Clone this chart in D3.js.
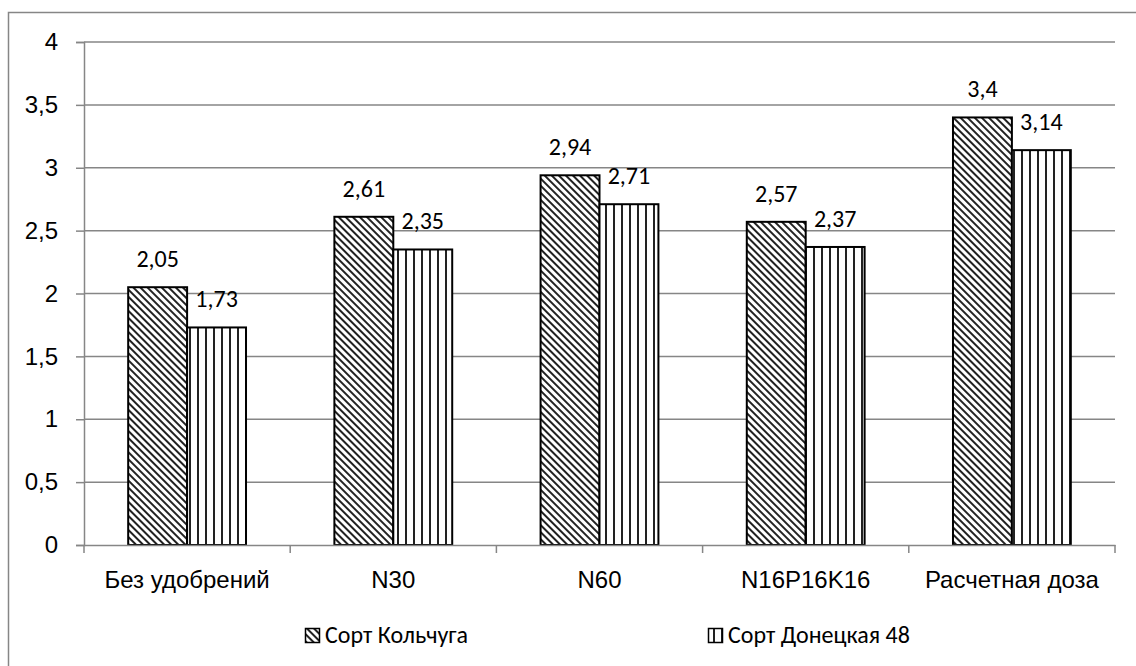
<!DOCTYPE html>
<html>
<head>
<meta charset="utf-8">
<script src="https://cdn.jsdelivr.net/npm/d3@7"></script>
<style>
  body { margin: 0; background: #fff; }
  svg { font-family: Carlito, "Open Sans", sans-serif; }
</style>
</head>
<body>
<svg id="chart" width="1136" height="666"></svg>
<script>
const categories = ["Без удобрений", "N30", "N60", "N16P16K16", "Расчетная доза"];
const seriesNames = ["Сорт Кольчуга", "Сорт Донецкая 48"];
const kolchuga = [2.05, 2.61, 2.94, 2.57, 3.4];
const donetskaya = [1.73, 2.35, 2.71, 2.37, 3.14];
const yTicks = [0, 0.5, 1, 1.5, 2, 2.5, 3, 3.5, 4];

const fmt = (v) => String(v).replace(".", ",");
const fontSize = 24;

const svg = d3.select("#chart");
const plotLeft = 84, plotRight = 1115, plotTop = 42, plotBottom = 545;

// outer frame of the chart area
svg.append("rect")
    .attr("x", 8.5).attr("y", 12.5)
    .attr("width", 1140).attr("height", 680)
    .attr("fill", "white")
    .attr("stroke", "#868686")
    .attr("stroke-width", 1.5);

// hatch patterns
const defs = svg.append("defs");
defs.append("pattern")
    .attr("id", "diag")
    .attr("patternUnits", "userSpaceOnUse")
    .attr("width", 5).attr("height", 5)
    .attr("patternTransform", "rotate(-45)")
    .call((p) => {
        p.append("rect").attr("width", 5).attr("height", 5).attr("fill", "white");
        p.append("rect").attr("width", 2).attr("height", 5).attr("fill", "#222");
    });
defs.append("pattern")
    .attr("id", "vert")
    .attr("patternUnits", "userSpaceOnUse")
    .attr("width", 8).attr("height", 8)
    .call((p) => {
        p.append("rect").attr("width", 8).attr("height", 8).attr("fill", "white");
        p.append("rect").attr("x", 5).attr("width", 2).attr("height", 8).attr("fill", "#222");
    });
const fills = ["url(#diag)", "url(#vert)"];

const x = d3.scaleBand().domain(categories).range([plotLeft, plotRight]);
const xs = d3.scaleBand().domain([0, 1]).range([0, x.bandwidth()]).paddingOuter(0.75);
const y = d3.scaleLinear().domain([0, 4]).range([plotBottom, plotTop]);

// gridlines
svg.append("g")
    .selectAll("line")
    .data(yTicks.slice(1))
    .enter()
    .append("line")
    .attr("x1", plotLeft).attr("x2", plotRight)
    .attr("y1", (d) => y(d)).attr("y2", (d) => y(d))
    .attr("stroke", "#868686")
    .attr("stroke-width", 1.5);

// y axis
const yAxis = svg.append("g")
    .attr("transform", `translate(${plotLeft},0)`)
    .call(d3.axisLeft(y).tickValues(yTicks).tickFormat(fmt).tickSize(8).tickPadding(18));
yAxis.select(".domain").attr("stroke", "#868686").attr("stroke-width", 1.5);
yAxis.selectAll(".tick line").attr("stroke", "#868686").attr("stroke-width", 1.5);
yAxis.selectAll("text").attr("font-size", fontSize).attr("fill", "#000");

// bars
const data = [kolchuga, donetskaya];
data.forEach((vals, s) => {
    svg.append("g")
        .selectAll("rect")
        .data(vals)
        .enter()
        .append("rect")
        .attr("x", (d, i) => x(categories[i]) + xs(s))
        .attr("y", (d) => y(d))
        .attr("width", xs.bandwidth())
        .attr("height", (d) => y(0) - y(d))
        .attr("fill", fills[s])
        .attr("stroke", "#000")
        .attr("stroke-width", 2);

    svg.append("g")
        .selectAll("text")
        .data(vals)
        .enter()
        .append("text")
        .attr("x", (d, i) => x(categories[i]) + xs(s) + xs.bandwidth() / 2)
        .attr("y", (d) => y(d) - 20)
        .attr("text-anchor", "middle")
        .attr("font-size", fontSize)
        .text(fmt);
});

// x axis
const xAxis = svg.append("g")
    .attr("transform", `translate(0,${plotBottom})`)
    .call(d3.axisBottom(x).tickSize(0).tickPadding(26));
xAxis.select(".domain").attr("stroke", "#868686").attr("stroke-width", 1.5);
xAxis.selectAll("text").attr("font-size", fontSize).attr("fill", "#000");
svg.append("g")
    .selectAll("line")
    .data(categories.map((c) => x(c)).concat([plotRight]))
    .enter()
    .append("line")
    .attr("x1", (d) => d).attr("x2", (d) => d)
    .attr("y1", plotBottom).attr("y2", plotBottom + 8)
    .attr("stroke", "#868686")
    .attr("stroke-width", 1.5);

// legend
const legendX = [305, 708];
const legend = svg.append("g")
    .selectAll("g")
    .data(seriesNames)
    .enter()
    .append("g")
    .attr("transform", (d, i) => `translate(${legendX[i]},628)`);
legend.append("rect")
    .attr("x", 0.5).attr("y", 0.5)
    .attr("width", 14).attr("height", 14)
    .attr("fill", (d, i) => fills[i])
    .attr("stroke", "#000")
    .attr("stroke-width", 1.5);
legend.append("text")
    .attr("x", 20).attr("y", 15)
    .attr("font-size", fontSize)
    .text((d) => d);
</script>
</body>
</html>
